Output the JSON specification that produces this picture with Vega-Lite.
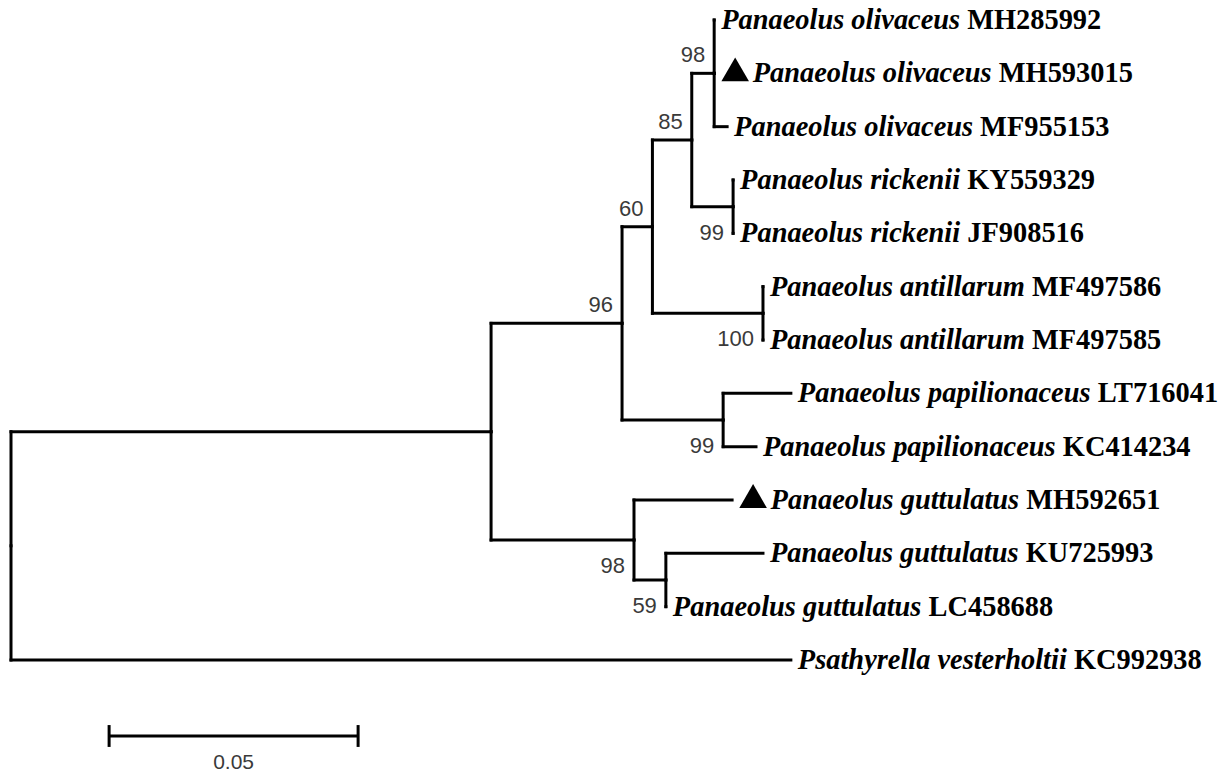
{
  "$schema": "https://vega.github.io/schema/vega-lite/v6.json",
  "width": 1228,
  "height": 774,
  "padding": 0,
  "autosize": {"type": "fit", "contains": "padding"},
  "background": "white",
  "config": {"view": {"stroke": null}},
  "datasets": {
    "edges": [
      {"parent": "root", "child": "nA", "px": 0, "py": 9.859, "cx": 0.0964, "cy": 7.719},
      {"parent": "root", "child": "KC992938", "px": 0, "py": 9.859, "cx": 0.1566, "cy": 12},
      {"parent": "nA", "child": "n96", "px": 0.0964, "py": 7.719, "cx": 0.1227, "cy": 5.688},
      {"parent": "nA", "child": "nGut", "px": 0.0964, "py": 7.719, "cx": 0.1251, "cy": 9.75},
      {"parent": "n96", "child": "n60", "px": 0.1227, "py": 5.688, "cx": 0.1288, "cy": 3.875},
      {"parent": "n96", "child": "nPap", "px": 0.1227, "py": 5.688, "cx": 0.143, "cy": 7.5},
      {"parent": "n60", "child": "n85", "px": 0.1288, "py": 3.875, "cx": 0.1367, "cy": 2.25},
      {"parent": "n60", "child": "nAnt", "px": 0.1288, "py": 3.875, "cx": 0.151, "cy": 5.5},
      {"parent": "n85", "child": "nOliv", "px": 0.1367, "py": 2.25, "cx": 0.1412, "cy": 1},
      {"parent": "n85", "child": "nRick", "px": 0.1367, "py": 2.25, "cx": 0.145, "cy": 3.5},
      {"parent": "nOliv", "child": "MH285992", "px": 0.1412, "py": 1, "cx": 0.1412, "cy": 0},
      {"parent": "nOliv", "child": "MH593015", "px": 0.1412, "py": 1, "cx": 0.1412, "cy": 1},
      {"parent": "nOliv", "child": "MF955153", "px": 0.1412, "py": 1, "cx": 0.1438, "cy": 2},
      {"parent": "nRick", "child": "KY559329", "px": 0.145, "py": 3.5, "cx": 0.145, "cy": 3},
      {"parent": "nRick", "child": "JF908516", "px": 0.145, "py": 3.5, "cx": 0.145, "cy": 4},
      {"parent": "nAnt", "child": "MF497586", "px": 0.151, "py": 5.5, "cx": 0.151, "cy": 5},
      {"parent": "nAnt", "child": "MF497585", "px": 0.151, "py": 5.5, "cx": 0.151, "cy": 6},
      {"parent": "nPap", "child": "LT716041", "px": 0.143, "py": 7.5, "cx": 0.1566, "cy": 7},
      {"parent": "nPap", "child": "KC414234", "px": 0.143, "py": 7.5, "cx": 0.1496, "cy": 8},
      {"parent": "nGut", "child": "MH592651", "px": 0.1251, "py": 9.75, "cx": 0.1448, "cy": 9},
      {"parent": "nGut", "child": "n59", "px": 0.1251, "py": 9.75, "cx": 0.1315, "cy": 10.5},
      {"parent": "n59", "child": "KU725993", "px": 0.1315, "py": 10.5, "cx": 0.151, "cy": 10},
      {"parent": "n59", "child": "LC458688", "px": 0.1315, "py": 10.5, "cx": 0.1315, "cy": 11}
    ],
    "tips": [
      {"species": "Panaeolus olivaceus", "acc": "MH285992", "dist": 0.1412, "row": 0, "novel": false},
      {"species": "Panaeolus olivaceus", "acc": "MH593015", "dist": 0.1412, "row": 1, "novel": true},
      {"species": "Panaeolus olivaceus", "acc": "MF955153", "dist": 0.1438, "row": 2, "novel": false},
      {"species": "Panaeolus rickenii", "acc": "KY559329", "dist": 0.145, "row": 3, "novel": false},
      {"species": "Panaeolus rickenii", "acc": "JF908516", "dist": 0.145, "row": 4, "novel": false},
      {"species": "Panaeolus antillarum", "acc": "MF497586", "dist": 0.151, "row": 5, "novel": false},
      {"species": "Panaeolus antillarum", "acc": "MF497585", "dist": 0.151, "row": 6, "novel": false},
      {"species": "Panaeolus papilionaceus", "acc": "LT716041", "dist": 0.1566, "row": 7, "novel": false},
      {"species": "Panaeolus papilionaceus", "acc": "KC414234", "dist": 0.1496, "row": 8, "novel": false},
      {"species": "Panaeolus guttulatus", "acc": "MH592651", "dist": 0.1448, "row": 9, "novel": true},
      {"species": "Panaeolus guttulatus", "acc": "KU725993", "dist": 0.151, "row": 10, "novel": false},
      {"species": "Panaeolus guttulatus", "acc": "LC458688", "dist": 0.1315, "row": 11, "novel": false},
      {"species": "Psathyrella vesterholtii", "acc": "KC992938", "dist": 0.1566, "row": 12, "novel": false}
    ],
    "boot": [
      {"node": "nOliv", "support": 98, "dist": 0.1412, "row": 1},
      {"node": "n85", "support": 85, "dist": 0.1367, "row": 2.25},
      {"node": "n60", "support": 60, "dist": 0.1288, "row": 3.875},
      {"node": "n96", "support": 96, "dist": 0.1227, "row": 5.688},
      {"node": "nRick", "support": 99, "dist": 0.145, "row": 3.5},
      {"node": "nAnt", "support": 100, "dist": 0.151, "row": 5.5},
      {"node": "nPap", "support": 99, "dist": 0.143, "row": 7.5},
      {"node": "nGut", "support": 98, "dist": 0.1251, "row": 9.75},
      {"node": "n59", "support": 59, "dist": 0.1315, "row": 10.5}
    ],
    "scalebar": [
      {"start": 0.0197, "end": 0.0697, "row": 13.425, "top": 13.22, "bottom": 13.63, "mid": 0.0447, "labelRow": 13.93, "label": "0.05"}
    ]
  },
  "encoding": {},
  "layer": [
    {
      "data": {"name": "edges"},
      "mark": {"type": "rule", "color": "black", "strokeWidth": 3, "strokeCap": "square"},
      "encoding": {
        "x": {"field": "px", "type": "quantitative", "scale": {"domain": [-0.002209, 0.244378], "nice": false, "zero": false}, "axis": null},
        "x2": {"field": "cx"},
        "y": {"field": "cy", "type": "quantitative", "scale": {"domain": [-0.375, 14.1375], "nice": false, "zero": false, "reverse": true}, "axis": null}
      }
    },
    {
      "data": {"name": "edges"},
      "mark": {"type": "rule", "color": "black", "strokeWidth": 3, "strokeCap": "square"},
      "encoding": {
        "x": {"field": "px", "type": "quantitative"},
        "y": {"field": "py", "type": "quantitative"},
        "y2": {"field": "cy"}
      }
    },
    {
      "data": {"name": "tips"},
      "transform": [{"filter": "!datum.novel"}],
      "mark": {"type": "text", "align": "left", "baseline": "middle", "dx": 7, "font": "Liberation Serif", "fontSize": 28.4, "fontStyle": "italic", "fontWeight": "bold", "color": "black"},
      "encoding": {
        "x": {"field": "dist", "type": "quantitative"},
        "y": {"field": "row", "type": "quantitative"},
        "text": {"field": "species"}
      }
    },
    {
      "data": {"name": "tips"},
      "transform": [{"filter": "datum.novel"}],
      "mark": {"type": "text", "align": "left", "baseline": "middle", "dx": 38.5, "font": "Liberation Serif", "fontSize": 28.4, "fontStyle": "italic", "fontWeight": "bold", "color": "black"},
      "encoding": {
        "x": {"field": "dist", "type": "quantitative"},
        "y": {"field": "row", "type": "quantitative"},
        "text": {"field": "species"}
      }
    },
    {
      "data": {"name": "tips"},
      "transform": [{"filter": "datum.novel"}],
      "mark": {"type": "point", "shape": "triangle-up", "filled": true, "color": "black", "opacity": 1, "size": 760},
      "encoding": {
        "x": {"field": "dist", "type": "quantitative"},
        "y": {"field": "row", "type": "quantitative"},
        "xOffset": {"value": 21},
        "yOffset": {"value": -4}
      }
    },
    {
      "data": {"name": "tips"},
      "transform": [{"filter": "datum.species === 'Panaeolus olivaceus' && !datum.novel"}],
      "mark": {"type": "text", "align": "left", "baseline": "middle", "dx": 253, "font": "Liberation Serif", "fontSize": 28.4, "fontWeight": "bold", "color": "black"},
      "encoding": {"x": {"field": "dist", "type": "quantitative"}, "y": {"field": "row", "type": "quantitative"}, "text": {"field": "acc"}}
    },
    {
      "data": {"name": "tips"},
      "transform": [{"filter": "datum.species === 'Panaeolus olivaceus' && datum.novel"}],
      "mark": {"type": "text", "align": "left", "baseline": "middle", "dx": 284.6, "font": "Liberation Serif", "fontSize": 28.4, "fontWeight": "bold", "color": "black"},
      "encoding": {"x": {"field": "dist", "type": "quantitative"}, "y": {"field": "row", "type": "quantitative"}, "text": {"field": "acc"}}
    },
    {
      "data": {"name": "tips"},
      "transform": [{"filter": "datum.species === 'Panaeolus rickenii'"}],
      "mark": {"type": "text", "align": "left", "baseline": "middle", "dx": 234.2, "font": "Liberation Serif", "fontSize": 28.4, "fontWeight": "bold", "color": "black"},
      "encoding": {"x": {"field": "dist", "type": "quantitative"}, "y": {"field": "row", "type": "quantitative"}, "text": {"field": "acc"}}
    },
    {
      "data": {"name": "tips"},
      "transform": [{"filter": "datum.species === 'Panaeolus antillarum'"}],
      "mark": {"type": "text", "align": "left", "baseline": "middle", "dx": 269, "font": "Liberation Serif", "fontSize": 28.4, "fontWeight": "bold", "color": "black"},
      "encoding": {"x": {"field": "dist", "type": "quantitative"}, "y": {"field": "row", "type": "quantitative"}, "text": {"field": "acc"}}
    },
    {
      "data": {"name": "tips"},
      "transform": [{"filter": "datum.species === 'Panaeolus papilionaceus'"}],
      "mark": {"type": "text", "align": "left", "baseline": "middle", "dx": 306.8, "font": "Liberation Serif", "fontSize": 28.4, "fontWeight": "bold", "color": "black"},
      "encoding": {"x": {"field": "dist", "type": "quantitative"}, "y": {"field": "row", "type": "quantitative"}, "text": {"field": "acc"}}
    },
    {
      "data": {"name": "tips"},
      "transform": [{"filter": "datum.species === 'Panaeolus guttulatus' && !datum.novel"}],
      "mark": {"type": "text", "align": "left", "baseline": "middle", "dx": 262.7, "font": "Liberation Serif", "fontSize": 28.4, "fontWeight": "bold", "color": "black"},
      "encoding": {"x": {"field": "dist", "type": "quantitative"}, "y": {"field": "row", "type": "quantitative"}, "text": {"field": "acc"}}
    },
    {
      "data": {"name": "tips"},
      "transform": [{"filter": "datum.species === 'Panaeolus guttulatus' && datum.novel"}],
      "mark": {"type": "text", "align": "left", "baseline": "middle", "dx": 294.2, "font": "Liberation Serif", "fontSize": 28.4, "fontWeight": "bold", "color": "black"},
      "encoding": {"x": {"field": "dist", "type": "quantitative"}, "y": {"field": "row", "type": "quantitative"}, "text": {"field": "acc"}}
    },
    {
      "data": {"name": "tips"},
      "transform": [{"filter": "datum.species === 'Psathyrella vesterholtii'"}],
      "mark": {"type": "text", "align": "left", "baseline": "middle", "dx": 283.1, "font": "Liberation Serif", "fontSize": 28.4, "fontWeight": "bold", "color": "black"},
      "encoding": {"x": {"field": "dist", "type": "quantitative"}, "y": {"field": "row", "type": "quantitative"}, "text": {"field": "acc"}}
    },
    {
      "data": {"name": "boot"},
      "transform": [{"filter": {"field": "node", "oneOf": ["nOliv", "n85", "n60", "n96"]}}],
      "mark": {"type": "text", "align": "right", "baseline": "middle", "dx": -9, "dy": -18, "font": "Liberation Sans", "fontSize": 22, "color": "#3a3a3a"},
      "encoding": {"x": {"field": "dist", "type": "quantitative"}, "y": {"field": "row", "type": "quantitative"}, "text": {"field": "support"}}
    },
    {
      "data": {"name": "boot"},
      "transform": [{"filter": {"field": "node", "oneOf": ["nRick", "nAnt", "nPap", "nGut", "n59"]}}],
      "mark": {"type": "text", "align": "right", "baseline": "middle", "dx": -9, "dy": 26, "font": "Liberation Sans", "fontSize": 22, "color": "#3a3a3a"},
      "encoding": {"x": {"field": "dist", "type": "quantitative"}, "y": {"field": "row", "type": "quantitative"}, "text": {"field": "support"}}
    },
    {
      "data": {"name": "scalebar"},
      "mark": {"type": "rule", "color": "black", "strokeWidth": 3},
      "encoding": {"x": {"field": "start", "type": "quantitative"}, "x2": {"field": "end"}, "y": {"field": "row", "type": "quantitative"}}
    },
    {
      "data": {"name": "scalebar"},
      "mark": {"type": "rule", "color": "black", "strokeWidth": 3},
      "encoding": {"x": {"field": "start", "type": "quantitative"}, "y": {"field": "top", "type": "quantitative"}, "y2": {"field": "bottom"}}
    },
    {
      "data": {"name": "scalebar"},
      "mark": {"type": "rule", "color": "black", "strokeWidth": 3},
      "encoding": {"x": {"field": "end", "type": "quantitative"}, "y": {"field": "top", "type": "quantitative"}, "y2": {"field": "bottom"}}
    },
    {
      "data": {"name": "scalebar"},
      "mark": {"type": "text", "align": "center", "baseline": "middle", "font": "Liberation Sans", "fontSize": 21, "color": "#3a3a3a"},
      "encoding": {"x": {"field": "mid", "type": "quantitative"}, "y": {"field": "labelRow", "type": "quantitative"}, "text": {"field": "label"}}
    }
  ]
}
